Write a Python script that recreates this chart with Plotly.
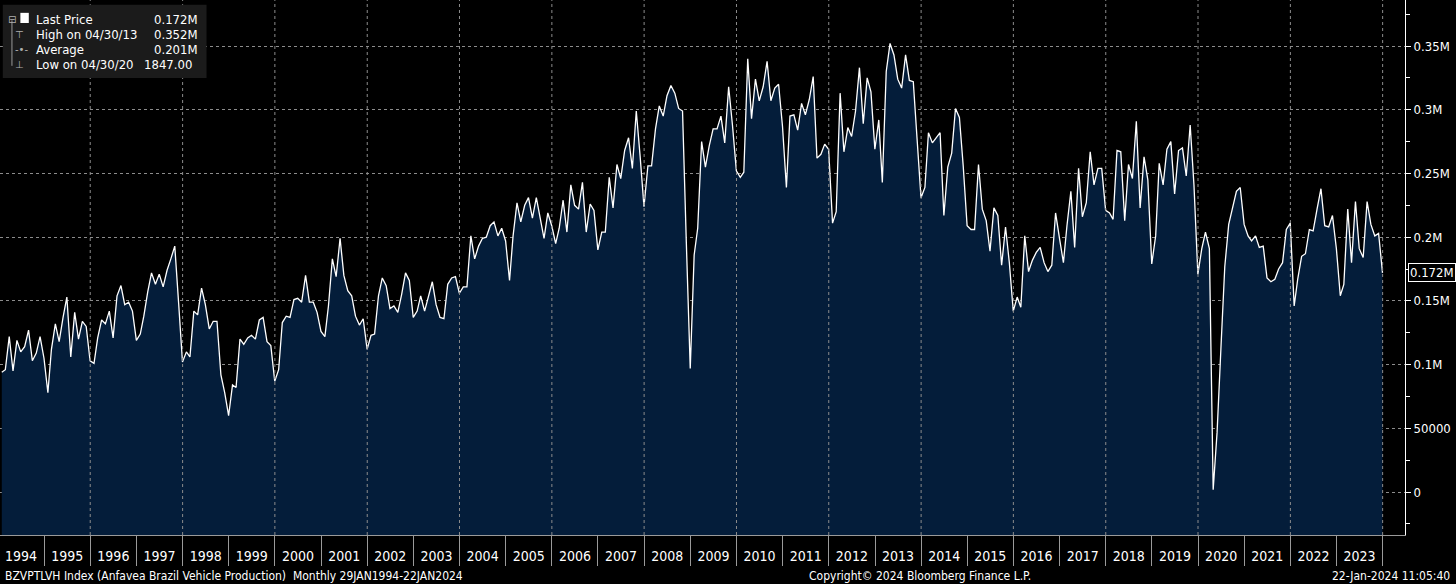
import plotly.graph_objects as go
import pandas as pd

# Anfavea Brazil vehicle production, monthly, thousands of units
y1994 = [94, 96, 122, 95, 119, 110, 114, 127, 103, 109, 122, 105]
y1995 = [78, 112, 132, 118, 137, 153, 106, 141, 120, 134, 130, 103]
y1996 = [101, 121, 135, 132, 142, 121, 154, 162, 147, 149, 142, 119]
y1997 = [124, 138, 157, 172, 163, 171, 161, 174, 183, 193, 149, 102]
y1998 = [110, 106, 142, 139, 160, 147, 128, 134, 134, 92, 78, 60]
y1999 = [84, 82, 120, 116, 121, 123, 120, 135, 137, 118, 115, 87]
y2000 = [96, 133, 138, 137, 151, 152, 149, 170, 149, 149, 141, 126]
y2001 = [122, 146, 183, 169, 199, 170, 158, 154, 138, 131, 136, 112]
y2002 = [123, 124, 154, 168, 162, 144, 146, 141, 155, 172, 166, 137]
y2003 = [142, 154, 142, 154, 165, 147, 137, 136, 163, 168, 169, 156]
y2004 = [161, 161, 201, 183, 193, 199, 200, 209, 212, 201, 207, 197]
y2005 = [166, 201, 227, 212, 225, 231, 215, 231, 216, 199, 219, 209]
y2006 = [195, 207, 229, 204, 241, 225, 222, 243, 204, 226, 221, 190]
y2007 = [204, 204, 247, 223, 257, 246, 268, 278, 254, 299, 264, 224]
y2008 = [256, 256, 285, 303, 295, 311, 319, 313, 301, 299, 196, 97]
y2009 = [186, 207, 275, 255, 272, 285, 285, 295, 274, 318, 288, 252]
y2010 = [247, 251, 340, 293, 324, 307, 318, 338, 307, 317, 320, 287]
y2011 = [239, 295, 296, 284, 305, 296, 308, 326, 262, 265, 273, 269]
y2012 = [211, 220, 313, 267, 286, 279, 299, 333, 289, 325, 314, 269]
y2013 = [292, 243, 330, 352, 343, 324, 317, 343, 323, 322, 277, 231]
y2014 = [239, 282, 274, 278, 282, 217, 255, 266, 301, 294, 256, 209]
y2015 = [206, 206, 257, 222, 213, 189, 223, 217, 178, 208, 180, 142]
y2016 = [153, 145, 201, 173, 182, 188, 192, 180, 173, 178, 219, 199]
y2017 = [180, 209, 236, 192, 254, 216, 227, 267, 241, 254, 254, 221]
y2018 = [219, 214, 268, 267, 213, 257, 246, 291, 223, 263, 245, 179]
y2019 = [201, 258, 241, 269, 275, 234, 268, 270, 248, 288, 241, 171]
y2020 = [191, 204, 191, 1.847, 47, 112, 177, 210, 222, 236, 239, 210]
y2021 = [201, 197, 201, 192, 193, 168, 165, 167, 175, 180, 206, 211]
y2022 = [146, 167, 185, 187, 206, 205, 222, 238, 209, 208, 217, 191]
y2023 = [154, 163, 222, 180, 228, 191, 184, 228, 210, 201, 203, 172]

years = [y1994, y1995, y1996, y1997, y1998, y1999, y2000, y2001, y2002, y2003,
         y2004, y2005, y2006, y2007, y2008, y2009, y2010, y2011, y2012, y2013,
         y2014, y2015, y2016, y2017, y2018, y2019, y2020, y2021, y2022, y2023]
values = [v * 1000 for yr in years for v in yr]
dates = pd.date_range("1994-01-31", periods=len(values), freq="ME")

tick_vals = [0, 50000, 100000, 150000, 200000, 250000, 300000, 350000]
tick_text = ["0", "50000", "0.1M", "0.15M", "0.2M", "0.25M", "0.3M", "0.35M"]
grid_years = list(range(1996, 2025, 2))

legend_labels = ["Last Price", "High on 04/30/13", "Average", "Low on 04/30/20"]
legend_values = ["0.172M", "0.352M", "0.201M", "1847.00"]

Y_MIN, Y_MAX = -33700, 386100
FONT = "Liberation Sans Narrow, Arial Narrow, DejaVu Sans Condensed, sans-serif"
NAVY = "#041d3a"
GRID = "#8c8c8c"

fig = go.Figure()

# invisible floor so the area reaches the bottom of the plot, like the terminal does
fig.add_trace(go.Scatter(x=dates, y=[Y_MIN] * len(values), mode="lines",
                         line=dict(width=0), hoverinfo="skip", showlegend=False))
fig.add_trace(go.Scatter(x=dates, y=values, mode="lines", fill="tonexty",
                         fillcolor=NAVY, line=dict(color="white", width=1.3),
                         showlegend=False))

for yr in grid_years:
    fig.add_shape(type="line", xref="x", yref="paper",
                  x0=f"{yr}-01-01", x1=f"{yr}-01-01", y0=0, y1=1,
                  line=dict(color=GRID, width=1, dash="dot"), layer="above")

# legend box top left
fig.add_shape(type="rect", xref="paper", yref="paper", x0=0.002, x1=0.147,
              y0=0.854, y1=0.991, fillcolor="#1b1b1b", line=dict(width=0), layer="above")
fig.add_shape(type="rect", xref="paper", yref="paper", x0=0.0145, x1=0.0205,
              y0=0.957, y1=0.976, fillcolor="white", line=dict(width=0), layer="above")
fig.add_shape(type="line", xref="paper", yref="paper", x0=0.0085, x1=0.0085,
              y0=0.962, y1=0.877, line=dict(color="#9a9a9a", width=1), layer="above")

row_y = [0.963, 0.935, 0.907, 0.879]
for i, (lab, val) in enumerate(zip(legend_labels, legend_values)):
    fig.add_annotation(xref="paper", yref="paper", x=0.024, y=row_y[i], text=lab,
                       showarrow=False, xanchor="left", yanchor="middle",
                       font=dict(family=FONT, size=13, color="white"))
    last_row = i == len(legend_labels) - 1
    fig.add_annotation(xref="paper", yref="paper", x=0.101 if last_row else 0.1425,
                       y=row_y[i], text=val, showarrow=False,
                       xanchor="left" if last_row else "right", yanchor="middle",
                       font=dict(family=FONT, size=13, color="white"))
for sym, yy in zip(["⊟", "⊤", "-•-", "⊥"], row_y):
    fig.add_annotation(xref="paper", yref="paper", x=0.0095 if sym != "⊟" else 0.0085,
                       y=yy, text=sym, showarrow=False, xanchor="left" if sym != "⊟" else "center",
                       yanchor="middle",
                       font=dict(family="DejaVu Sans", size=10, color="#b0b0b0"))

# last value tag on the right axis
fig.add_annotation(xref="paper", yref="y", x=1, y=values[-1], xshift=3,
                   text=f"{values[-1] / 1e6:.3f}M", showarrow=False, xanchor="left",
                   yanchor="middle", bgcolor="black", bordercolor="white", borderwidth=1,
                   borderpad=1, font=dict(family=FONT, size=13, color="white"))

# footer
fig.add_annotation(xref="paper", yref="paper", x=0.002, y=-0.077, yanchor="middle",
                   xanchor="left", showarrow=False,
                   text="BZVPTLVH Index (Anfavea Brazil Vehicle Production)  Monthly 29JAN1994-22JAN2024",
                   font=dict(family=FONT, size=12, color="white"))
fig.add_annotation(xref="paper", yref="paper", x=0.655, y=-0.077, yanchor="middle",
                   xanchor="center", showarrow=False,
                   text="Copyright© 2024 Bloomberg Finance L.P.",
                   font=dict(family=FONT, size=12, color="white"))
fig.add_annotation(xref="paper", yref="paper", x=1.0335, y=-0.077, yanchor="middle",
                   xanchor="right", showarrow=False, text="22-Jan-2024 11:05:40",
                   font=dict(family=FONT, size=12, color="white"))

fig.update_layout(
    width=1456, height=584,
    margin=dict(l=0, r=51, t=0, b=49),
    paper_bgcolor="black", plot_bgcolor="black",
    showlegend=False,
    font=dict(family=FONT, color="white"),
)
fig.update_xaxes(
    range=["1994-01-17", "2024-06-26"],
    tick0="1994-01-01", dtick="M12", tickformat="%Y", ticklabelmode="period",
    ticks="outside", ticklen=30, tickcolor="#9a9a9a", tickwidth=1,
    ticklabelstandoff=-22,
    showgrid=False, zeroline=False,
    showline=True, linecolor="#9a9a9a", linewidth=1,
    tickfont=dict(family=FONT, size=14, color="white"),
)
fig.update_yaxes(
    range=[Y_MIN, Y_MAX], side="right",
    tickvals=tick_vals, ticktext=tick_text,
    ticks="outside", ticklen=5, tickcolor="white",
    minor=dict(dtick=25000, tick0=0, ticks="outside", ticklen=4, tickcolor="white", showgrid=False),
    showgrid=True, gridcolor=GRID, griddash="dot", gridwidth=1,
    zeroline=False, showline=True, linecolor="white", linewidth=1,
    tickfont=dict(family=FONT, size=13, color="white"),
)

# the page body keeps a default 8px margin; drop it so the chart sits at the window corner
fig.write_html("out.html", config={"displayModeBar": False},
               post_script="document.body.style.margin='0';document.body.style.background='black';")
